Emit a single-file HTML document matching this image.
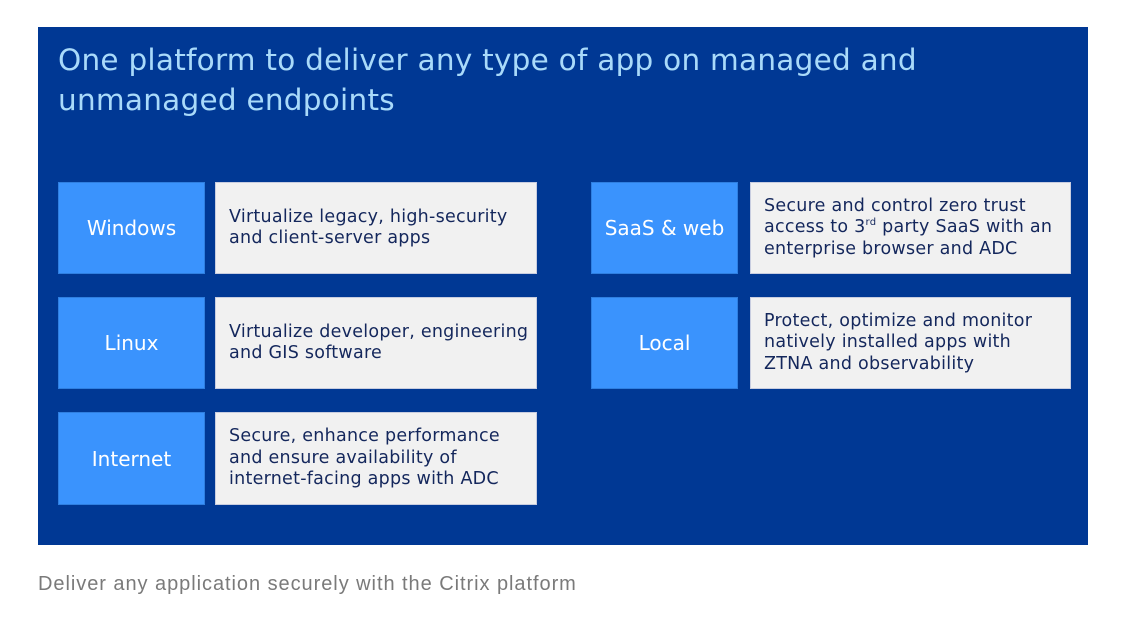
<!DOCTYPE html>
<html><head><meta charset="utf-8"><style>
body{margin:0;width:1140px;height:622px;background:#fff;position:relative;font-family:"DejaVu Sans","Liberation Sans",sans-serif;overflow:hidden}
.panel{position:absolute;left:38px;top:27px;width:1050px;height:518px;background:#003894}
.title{position:absolute;left:58px;top:40px;color:#a9dafa;font-size:29.5px;line-height:40px;letter-spacing:0.25px}
.b{position:absolute;background:#3a93fd;color:#fff;font-size:20px;display:flex;align-items:center;justify-content:center;border:1px solid #2f7fe0;box-sizing:border-box}
.g{position:absolute;background:#f1f1f1;color:#14275c;font-size:17.5px;letter-spacing:0.25px;line-height:21.5px;display:flex;align-items:center;padding-left:13px;box-sizing:border-box;border:1px solid #c8cde0;white-space:nowrap}
.cap{position:absolute;left:38px;top:573px;color:#7a7a7a;font-size:20px;letter-spacing:0.95px;font-family:"Liberation Sans",sans-serif}
sup{font-size:10px;line-height:0}
</style></head><body>
<div class="panel"></div>
<div class="title">One platform to deliver any type of app on managed and<br>unmanaged endpoints</div>
<div class="b" style="left:58px;top:182px;width:147px;height:92px">Windows</div>
<div class="g" style="left:215px;top:182px;width:322px;height:92px"><div>Virtualize legacy, high-security<br>and client-server apps</div></div>
<div class="b" style="left:58px;top:297px;width:147px;height:92px">Linux</div>
<div class="g" style="left:215px;top:297px;width:322px;height:92px"><div>Virtualize developer, engineering<br>and GIS software</div></div>
<div class="b" style="left:58px;top:412px;width:147px;height:93px">Internet</div>
<div class="g" style="left:215px;top:412px;width:322px;height:93px"><div>Secure, enhance performance<br>and ensure availability of<br>internet-facing apps with ADC</div></div>
<div class="b" style="left:591px;top:182px;width:147px;height:92px">SaaS &amp; web</div>
<div class="g" style="left:750px;top:182px;width:321px;height:92px"><div>Secure and control zero trust<br>access to 3<sup>rd</sup> party SaaS with an<br>enterprise browser and ADC</div></div>
<div class="b" style="left:591px;top:297px;width:147px;height:92px">Local</div>
<div class="g" style="left:750px;top:297px;width:321px;height:92px"><div>Protect, optimize and monitor<br>natively installed apps with<br>ZTNA and observability</div></div>
<div class="cap">Deliver any application securely with the Citrix platform</div>
</body></html>
